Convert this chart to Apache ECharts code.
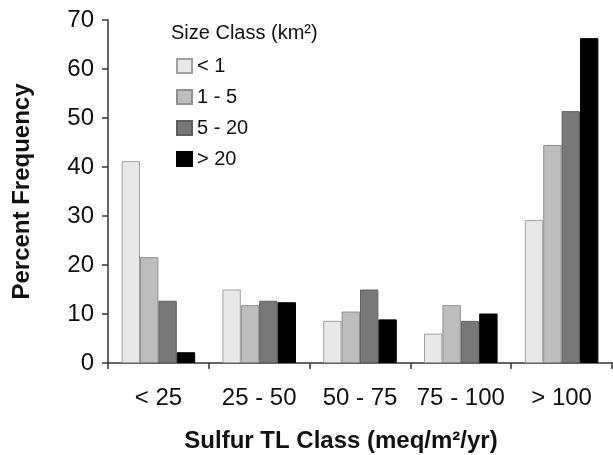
<!DOCTYPE html>
<html>
<head>
    <meta charset="utf-8">
    <title>Sulfur TL Class</title>
    <script src="https://cdn.jsdelivr.net/npm/echarts@6/dist/echarts.min.js"></script>
</head>
<body style="margin:0">
<div id="main" style="width: 613px;height:455px;"></div>
<script type="text/javascript">
    var myChart = echarts.init(document.getElementById('main'));

    // data
    var categories = ['< 25', '25 - 50', '50 - 75', '75 - 100', '> 100'];
    var sizeClasses = ['< 1', '1 - 5', '5 - 20', '> 20'];
    var lt1 = [41.2, 15.0, 8.6, 6.0, 29.2];
    var from1to5 = [21.6, 11.8, 10.5, 11.8, 44.5];
    var from5to20 = [12.7, 12.7, 15.0, 8.6, 51.4];
    var gt20 = [2.2, 12.4, 8.9, 10.1, 66.3];

    var fills = ['#e8e8e8', '#bdbdbd', '#787878', '#000000'];
    var borders = ['#a0a0a0', '#8f8f8f', '#5f5f5f', '#000000'];
    var values = [lt1, from1to5, from5to20, gt20];

    var font = 'Liberation Sans, Arial, sans-serif';

    option = {
        textStyle: {fontFamily: font},
        animation: false,
        grid: {
            left: 108,
            right: 1,
            top: 20,
            bottom: 92,
            outerBoundsMode: 'none'
        },
        title: {
            text: 'Size Class (km\u00b2)',
            left: 166,
            top: 18,
            textStyle: {fontSize: 20, fontWeight: 'normal', color: '#111', fontFamily: font}
        },
        legend: {
            orient: 'vertical',
            left: 171,
            top: 51,
            itemWidth: 15,
            itemHeight: 14,
            itemGap: 11,
            icon: 'rect',
            textStyle: {fontSize: 20, color: '#111', fontFamily: font},
            data: sizeClasses
        },
        xAxis: {
            type: 'category',
            data: categories,
            boundaryGap: true,
            name: 'Sulfur TL Class (meq/m\u00b2/yr)',
            nameLocation: 'middle',
            nameGap: 66,
            nameTextStyle: {fontSize: 24, fontWeight: 'bold', color: '#111', fontFamily: font, padding: [0, 38, 0, 0]},
            axisLine: {lineStyle: {color: '#333', width: 1.5}},
            axisTick: {show: true, length: 6, lineStyle: {color: '#333', width: 1.5}},
            axisLabel: {interval: 0, hideOverlap: false, fontSize: 24, color: '#111', margin: 23, fontFamily: font},
            splitLine: {show: false}
        },
        yAxis: {
            type: 'value',
            min: 0,
            max: 70,
            interval: 10,
            name: 'Percent Frequency',
            nameLocation: 'middle',
            nameGap: 74,
            nameTextStyle: {fontSize: 24, fontWeight: 'bold', color: '#111', fontFamily: font},
            axisLine: {show: true, lineStyle: {color: '#333', width: 1.5}},
            axisTick: {show: true, length: 6, lineStyle: {color: '#333', width: 1.5}},
            axisLabel: {fontSize: 24, color: '#111', margin: 14, fontFamily: font},
            splitLine: {show: false}
        },
        series: sizeClasses.map(function (name, i) {
            return {
                name: name,
                type: 'bar',
                data: values[i],
                barGap: '0%',
                barCategoryGap: '27%',
                itemStyle: {
                    color: fills[i],
                    borderColor: borders[i],
                    borderWidth: 1
                }
            };
        })
    };

    myChart.setOption(option);
</script>
</body>
</html>
